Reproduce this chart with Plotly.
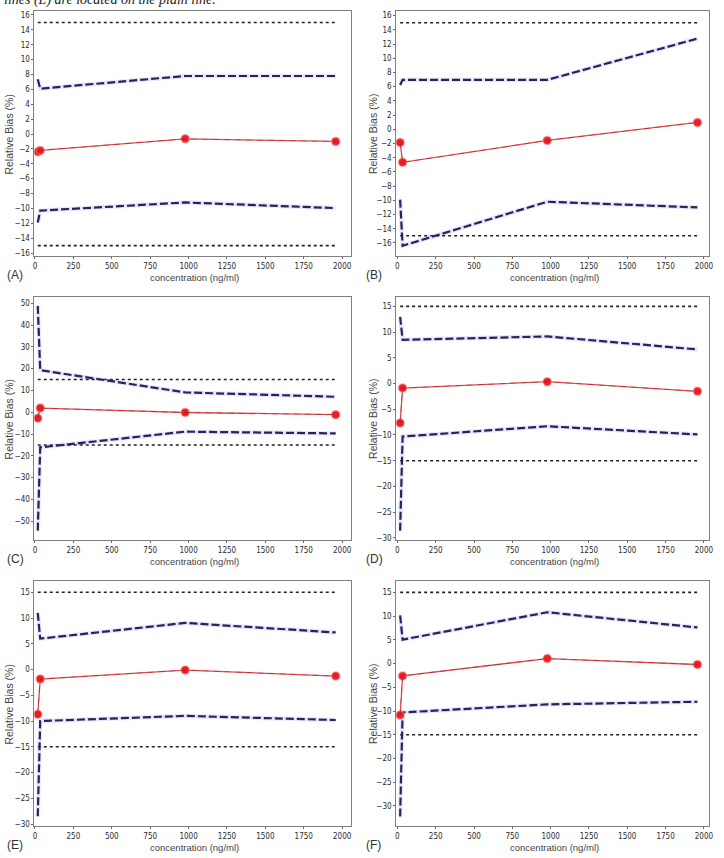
import plotly.graph_objects as go

# ---------------- data ----------------
concentration = [18, 34, 978, 1958]          # ng/ml
acceptance = [-15, 15]                        # acceptance limits (%)

panels = ["A", "B", "C", "D", "E", "F"]

bias_A = [-2.4, -2.2, -0.65, -1.0]
upper_A = [7.36, 6.1, 7.8, 7.8]
lower_A = [-11.9, -10.3, -9.2, -9.96]

bias_B = [-1.85, -4.66, -1.57, 0.96]
upper_B = [6.25, 6.96, 6.96, 12.77]
lower_B = [-9.9, -16.4, -10.2, -11.0]

bias_C = [-2.7, 1.9, -0.1, -1.1]
upper_C = [48.8, 19.3, 9.1, 7.1]
lower_C = [-54.3, -16.1, -8.9, -9.7]

bias_D = [-7.67, -0.87, 0.36, -1.52]
upper_D = [12.98, 8.5, 9.16, 6.63]
lower_D = [-28.6, -10.3, -8.3, -9.9]

bias_E = [-8.7, -1.85, -0.1, -1.27]
upper_E = [11.0, 6.0, 9.05, 7.2]
lower_E = [-28.5, -10.0, -9.0, -9.8]

bias_F = [-10.85, -2.6, 1.05, -0.2]
upper_F = [10.15, 5.04, 10.8, 7.6]
lower_F = [-32.2, -10.3, -8.6, -8.05]

bias = [bias_A, bias_B, bias_C, bias_D, bias_E, bias_F]
upper = [upper_A, upper_B, upper_C, upper_D, upper_E, upper_F]
lower = [lower_A, lower_B, lower_C, lower_D, lower_E, lower_F]

x_ticks = [0, 250, 500, 750, 1000, 1250, 1500, 1750, 2000]
y_ticks = [
    list(range(-16, 17, 2)),
    list(range(-16, 17, 2)),
    list(range(-50, 51, 10)),
    list(range(-30, 16, 5)),
    list(range(-30, 16, 5)),
    list(range(-30, 16, 5)),
]
y_ranges = [
    [-16.45, 16.54],
    [-17.9, 16.66],
    [-58.8, 53.05],
    [-30.5, 16.9],
    [-30.45, 17.2],
    [-34.3, 17.4],
]

x_title = "concentration (ng/ml)"
y_title = "Relative Bias (%)"
caption = "lines (L) are located on the plain line."

# ---------------- layout geometry (pixels) ----------------
W, H = 724, 858
boxes = [
    (32.7, 352.0, 11.0, 257.0),
    (398.0, 713.7, 11.0, 257.0),
    (32.7, 352.0, 297.3, 541.7),
    (398.0, 713.7, 297.3, 541.7),
    (32.7, 352.0, 582.3, 828.3),
    (398.0, 713.7, 582.3, 828.3),
]
x_ranges = [[-4, 2055], [-8, 2032]] * 3

fig = go.Figure()
layout_axes = {}
annotations = []

tick_font = dict(family="Liberation Sans Narrow, DejaVu Sans Condensed, Liberation Sans, sans-serif",
                 size=8, color="#2a2a2a")
label_font = dict(family="Liberation Sans, Arial, sans-serif", size=9.5, color="#444444")
ylabel_font = dict(family="Liberation Sans, Arial, sans-serif", size=10.5, color="#444444")

for i, name in enumerate(panels):
    k = "" if i == 0 else str(i + 1)
    xa, ya = "x" + k, "y" + k
    x0, x1, y0, y1 = boxes[i]

    # acceptance limits (dotted)
    for lim in acceptance:
        fig.add_trace(go.Scatter(
            x=[concentration[0], concentration[-1]], y=[lim, lim],
            mode="lines", line=dict(color="#222222", width=1.6, dash="dot"),
            xaxis=xa, yaxis=ya, showlegend=False, hoverinfo="skip"))

    # tolerance limits (blue dashed with faint halo)
    for series in (upper[i], lower[i]):
        fig.add_trace(go.Scatter(
            x=concentration, y=series, mode="lines",
            line=dict(color="rgba(110,110,230,0.16)", width=4.5),
            xaxis=xa, yaxis=ya, showlegend=False, hoverinfo="skip"))
        fig.add_trace(go.Scatter(
            x=concentration, y=series, mode="lines",
            line=dict(color="#24245e", width=2.2, dash="8px,3px"),
            xaxis=xa, yaxis=ya, showlegend=False))

    # relative bias (red)
    fig.add_trace(go.Scatter(
        x=concentration, y=bias[i], mode="lines+markers",
        line=dict(color="#e8474b", width=1.3),
        marker=dict(color="#ee1c25", size=8, line=dict(color="rgba(240,120,120,0.6)", width=1.5)),
        xaxis=xa, yaxis=ya, showlegend=False))
    fig.add_trace(go.Scatter(
        x=concentration, y=bias[i], mode="lines",
        line=dict(color="rgba(70,30,50,0.4)", width=0.9, dash="6px,5px"),
        xaxis=xa, yaxis=ya, showlegend=False, hoverinfo="skip"))

    axis_common = dict(showgrid=False, zeroline=False, showline=True, mirror=True,
                       linecolor="#808080", linewidth=1, ticks="outside", ticklen=2,
                       tickcolor="#666666", tickfont=tick_font)
    layout_axes["xaxis" + k] = dict(
        domain=[x0 / W, x1 / W], range=x_ranges[i], anchor=ya,
        tickvals=x_ticks, ticktext=[str(t) for t in x_ticks], **axis_common)
    layout_axes["yaxis" + k] = dict(
        domain=[1 - y1 / H, 1 - y0 / H], range=y_ranges[i], anchor=xa,
        tickvals=y_ticks[i], ticktext=[str(t).replace("-", "\u2212") for t in y_ticks[i]],
        **axis_common)

    # axis titles & panel labels
    cx = (x0 + x1) / 2 + 2
    annotations.append(dict(text=x_title, x=cx / W, y=1 - (y1 + 21.5) / H,
                            xref="paper", yref="paper", showarrow=False,
                            xanchor="center", yanchor="middle", font=label_font))
    ytx = 7 if i % 2 == 0 else 374
    annotations.append(dict(text=y_title, x=ytx / W, y=1 - ((y0 + y1) / 2) / H,
                            xref="paper", yref="paper", showarrow=False, textangle=-90,
                            xanchor="center", yanchor="middle", font=ylabel_font))
    lx = 3 if i % 2 == 0 else 366
    annotations.append(dict(text="(" + name + ")", x=lx / W, y=1 - (y1 + 19) / H,
                            xref="paper", yref="paper", showarrow=False,
                            xanchor="left", yanchor="middle",
                            font=dict(family="Liberation Sans, Arial, sans-serif", size=12, color="#333333")))

annotations.append(dict(text="<i>" + caption + "</i>", x=0.0, y=1.0, xref="paper", yref="paper",
                        showarrow=False, xanchor="left", yanchor="middle",
                        font=dict(family="Liberation Serif, Times New Roman, serif", size=14, color="#222222")))

fig.update_layout(
    width=W, height=H,
    margin=dict(l=0, r=0, t=0, b=0),
    paper_bgcolor="white", plot_bgcolor="white",
    showlegend=False,
    annotations=annotations,
    **layout_axes,
)

fig.write_html("out.html")
